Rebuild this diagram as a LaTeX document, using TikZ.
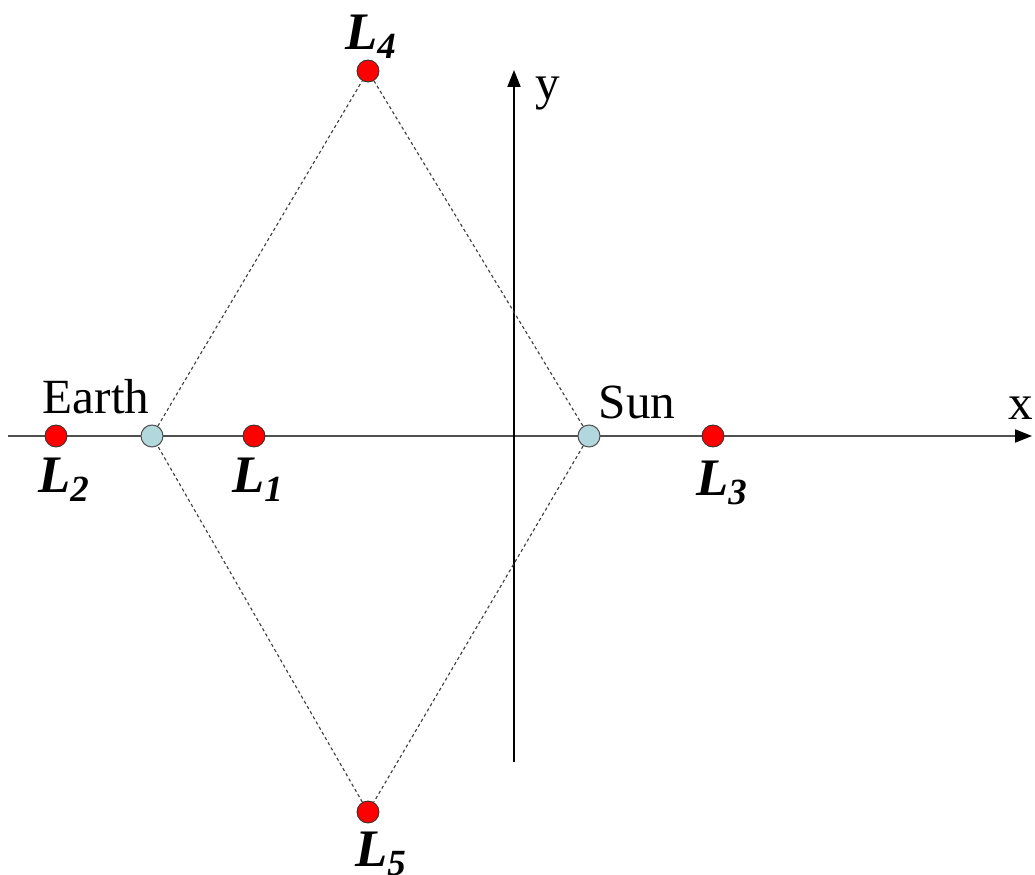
\documentclass[tikz,border=0pt]{standalone}
\usepackage{fontspec}
\setmainfont{Liberation Serif}
\usetikzlibrary{arrows.meta, positioning}
\definecolor{planetblue}{RGB}{178,216,222}
\definecolor{axisgray}{RGB}{80,80,80}
\tikzstyle{lpoint} = [circle, minimum size=0.44cm, inner sep=0pt, fill=red, draw=black!80, line width=0.5pt]
\tikzstyle{planet} = [circle, minimum size=0.44cm, inner sep=0pt, fill=planetblue, draw=axisgray, line width=0.6pt]
\tikzstyle{plabel} = [font=\fontsize{30}{33}\selectfont\bfseries\itshape, inner sep=0pt]
\tikzstyle{bodyname} = [font=\fontsize{28}{31}\selectfont, inner sep=0pt]
\tikzstyle{axis} = [line width=1.1pt, -{Triangle[length=0.34cm,width=0.26cm,color=black]}]
\tikzstyle{tri} = [dash pattern=on 1.8pt off 1.6pt, draw=black!75, line width=0.65pt]

\begin{document}
\begin{tikzpicture}[x=0.02cm, y=-0.02cm]

    \useasboundingbox (0,0) rectangle (1035,875);

    \coordinate (xstart) at (8,436);
    \coordinate (xend) at (1032,436);
    \coordinate (ystart) at (514,762);
    \coordinate (yend) at (514,70);

    \draw [axis, draw=axisgray] (xstart) -- (xend);
    \draw [axis, draw=black] (ystart) -- (yend);

    \node (ltwo) [lpoint] at (56,436) {};
    \node (earth) [planet] at (152,436) {};
    \node (lone) [lpoint] at (254,436) {};
    \node (sun) [planet] at (589,436) {};
    \node (lthree) [lpoint] at (713,436) {};
    \node (lfour) [lpoint] at (368,71) {};
    \node (lfive) [lpoint] at (368,812) {};

    \draw [tri] (earth) -- (lfour);
    \draw [tri] (lfour) -- (sun);
    \draw [tri] (sun) -- (lfive);
    \draw [tri] (lfive) -- (earth);

    \node (ltwolabel) [plabel] at (64,480) {L\textsubscript{2}};
    \node (lonelabel) [plabel] at (258,480) {L\textsubscript{1}};
    \node (lthreelabel) [plabel] at (722,483) {L\textsubscript{3}};
    \node (lfourlabel) [plabel] at (371,37) {L\textsubscript{4}};
    \node (lfivelabel) [plabel] at (381,854) {L\textsubscript{5}};

    \node (earthname) [bodyname] at (96,397) {Earth};
    \node (sunname) [bodyname] at (637,402) {Sun};
    \node (xname) [bodyname] at (1021,408) {x};
    \node (yname) [bodyname] at (548,94) {y};

\end{tikzpicture}
\end{document}
